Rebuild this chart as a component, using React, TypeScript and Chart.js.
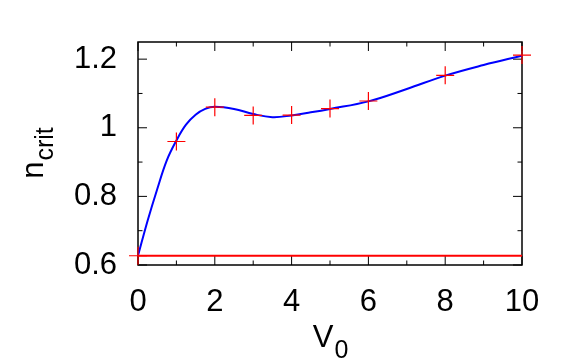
import React, { useEffect, useRef } from 'react';
import { Chart, registerables } from 'chart.js';

Chart.register(...registerables);

// Blue fitted curve
const curveX = [0, 0.25, 0.5, 0.75, 1, 1.25, 1.5, 1.75, 2, 2.5, 3, 3.5, 4, 4.5, 5, 6, 7, 8, 9, 10];
const curveY = [0.627, 0.729, 0.821, 0.905, 0.963, 1.009, 1.038, 1.055, 1.061, 1.055, 1.04, 1.031, 1.036, 1.045, 1.055, 1.077, 1.113, 1.152, 1.183, 1.21];

// Red "+" data points
const pointX = [0, 1, 2, 3, 4, 5, 6, 8, 10];
const pointY = [0.627, 0.96, 1.06, 1.036, 1.037, 1.056, 1.078, 1.153, 1.212];

// Red horizontal reference line
const refLineX = [0, 10];
const refLineY = [0.627, 0.627];

// Axes
const xMin = 0;
const xMax = 10;
const yMin = 0.6;
const yMax = 1.25;
const xTicks = [0, 2, 4, 6, 8, 10];
const xTickLabels = ['0', '2', '4', '6', '8', '10'];
const xMinorTicks = [1, 3, 5, 7, 9];
const yTicks = [0.6, 0.8, 1.0, 1.2];
const yTickLabels = ['0.6', '0.8', '1', '1.2'];
const yMinorTicks = [0.7, 0.9, 1.1];

const FONT = "'Liberation Sans', Arial, Helvetica, sans-serif";

const framePlugin = {
  id: 'gnuFrame',
  beforeDatasetsDraw(chart: any) {
    const { ctx, chartArea: a, scales } = chart;
    const xs = scales.x;
    const ys = scales.y;
    ctx.save();
    ctx.strokeStyle = '#000';
    ctx.lineWidth = 1;
    const seg = (x1: number, y1: number, x2: number, y2: number) => {
      ctx.beginPath();
      ctx.moveTo(x1, y1);
      ctx.lineTo(x2, y2);
      ctx.stroke();
    };
    const major = 9;
    const minor = 4.5;
    xTicks.forEach((v) => {
      const p = xs.getPixelForValue(v);
      seg(p, a.bottom, p, a.bottom - major);
      seg(p, a.top, p, a.top + major);
    });
    xMinorTicks.forEach((v) => {
      const p = xs.getPixelForValue(v);
      seg(p, a.bottom, p, a.bottom - minor);
      seg(p, a.top, p, a.top + minor);
    });
    yTicks.forEach((v) => {
      const p = ys.getPixelForValue(v);
      seg(a.left, p, a.left + major, p);
      seg(a.right, p, a.right - major, p);
    });
    yMinorTicks.forEach((v) => {
      const p = ys.getPixelForValue(v);
      seg(a.left, p, a.left + minor, p);
      seg(a.right, p, a.right - minor, p);
    });
    ctx.lineWidth = 1.5;
    ctx.strokeRect(a.left, a.top, a.right - a.left, a.bottom - a.top);
    ctx.restore();
  },
  afterDraw(chart: any) {
    const { ctx, chartArea: a } = chart;
    ctx.save();
    ctx.fillStyle = '#000';
    ctx.textBaseline = 'alphabetic';
    ctx.textAlign = 'left';
    const mainFont = `31px ${FONT}`;
    const subFont = `25px ${FONT}`;

    // x title: V_0
    ctx.font = mainFont;
    const wV = ctx.measureText('V').width;
    ctx.font = subFont;
    const w0 = ctx.measureText('0').width;
    const cx = (a.left + a.right) / 2;
    const startX = cx - (wV + w0) / 2;
    const baseY = 347;
    ctx.font = mainFont;
    ctx.fillText('V', startX, baseY);
    ctx.font = subFont;
    ctx.fillText('0', startX + wV + 1, baseY + 11);

    // y title: n_crit (rotated)
    ctx.font = mainFont;
    const wN = ctx.measureText('n').width;
    ctx.font = subFont;
    const wC = ctx.measureText('crit').width;
    const cy = (a.top + a.bottom) / 2;
    ctx.translate(43, cy + (wN + wC) / 2);
    ctx.rotate(-Math.PI / 2);
    ctx.font = mainFont;
    ctx.fillText('n', 0, 0);
    ctx.font = subFont;
    ctx.fillText('crit', wN + 1, 10);
    ctx.restore();
  },
};

export default function App() {
  const canvasRef = useRef<HTMLCanvasElement | null>(null);

  useEffect(() => {
    if (!canvasRef.current) return;
    const chart = new Chart(canvasRef.current, {
      type: 'scatter',
      data: {
        datasets: [
          {
            label: 'points',
            data: pointX.map((x, i) => ({ x, y: pointY[i] })),
            showLine: false,
            pointStyle: 'cross',
            pointRadius: 9,
            pointBorderWidth: 1.2,
            borderColor: '#ff0000',
            backgroundColor: '#ff0000',
            clip: false as any,
          },
          {
            label: 'reference',
            data: refLineX.map((x, i) => ({ x, y: refLineY[i] })),
            showLine: true,
            pointRadius: 0,
            borderColor: '#ff0000',
            borderWidth: 2,
          },
          {
            label: 'fit',
            data: curveX.map((x, i) => ({ x, y: curveY[i] })),
            showLine: true,
            pointRadius: 0,
            borderColor: '#0000ff',
            borderWidth: 2,
            tension: 0.4,
          },
        ],
      },
      options: {
        animation: false,
        responsive: false,
        devicePixelRatio: 1,
        layout: { padding: { left: 0, right: 59, top: 42, bottom: 0 } },
        plugins: {
          legend: { display: false },
          tooltip: { enabled: false },
        },
        scales: {
          x: {
            type: 'linear',
            min: xMin,
            max: xMax,
            grid: { display: false, drawTicks: false },
            border: { display: false },
            afterBuildTicks: (scale: any) => {
              scale.ticks = xTicks.map((v) => ({ value: v }));
            },
            afterFit: (scale: any) => {
              scale.height = 99;
            },
            ticks: {
              padding: 19,
              color: '#000',
              maxRotation: 0,
              font: { family: FONT, size: 31 },
              callback: (v: any) => {
                const i = xTicks.indexOf(Number(v));
                return i >= 0 ? xTickLabels[i] : '';
              },
            },
          },
          y: {
            type: 'linear',
            min: yMin,
            max: yMax,
            grid: { display: false, drawTicks: false },
            border: { display: false },
            afterBuildTicks: (scale: any) => {
              scale.ticks = yTicks.map((v) => ({ value: v }));
            },
            afterFit: (scale: any) => {
              scale.width = 138;
            },
            ticks: {
              padding: 21,
              color: '#000',
              font: { family: FONT, size: 31 },
              callback: (v: any) => {
                const i = yTicks.findIndex((t) => Math.abs(t - Number(v)) < 1e-6);
                return i >= 0 ? yTickLabels[i] : '';
              },
            },
          },
        },
      },
      plugins: [framePlugin],
    } as any);
    return () => chart.destroy();
  }, []);

  return (
    <div style={{ position: 'fixed', left: 0, top: 0, width: 581, height: 364, background: '#fff' }}>
      <canvas ref={canvasRef} width={581} height={364} style={{ width: 581, height: 364, display: 'block' }} />
    </div>
  );
}
